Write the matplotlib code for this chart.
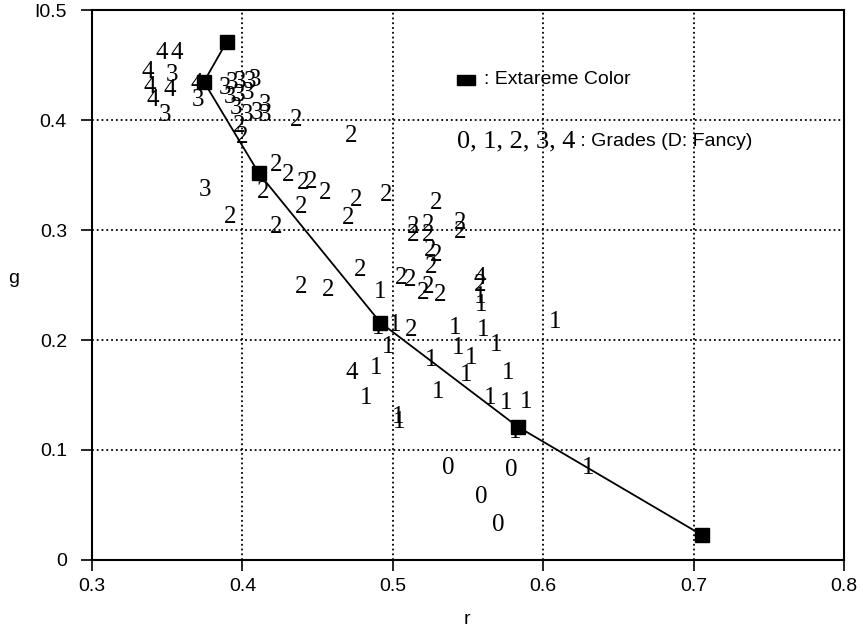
import matplotlib
matplotlib.use("Agg")
import matplotlib.pyplot as plt
from matplotlib.patches import Rectangle

# extreme colour points (joined by the line)
ext_r = [0.3895, 0.3744, 0.411, 0.4918, 0.583, 0.7055]
ext_g = [0.471, 0.4348, 0.3515, 0.2158, 0.1212, 0.0227]

# grade 0
r0 = [0.5368, 0.5789, 0.5589, 0.570]
g0 = [0.0833, 0.0818, 0.0576, 0.0318]

# grade 1
r1 = [0.4914, 0.4903, 0.5013, 0.5412, 0.560, 0.5689, 0.559, 0.6076, 0.4969,
      0.5434, 0.5523, 0.5257, 0.4892, 0.549, 0.5766, 0.4825, 0.5301, 0.5645,
      0.5755, 0.5888, 0.5035, 0.504, 0.581, 0.6298, 0.5578]
g1 = [0.244, 0.2106, 0.2136, 0.2106, 0.209, 0.1955, 0.2318, 0.2167, 0.194,
      0.1924, 0.1833, 0.1818, 0.1742, 0.1682, 0.1697, 0.147, 0.153, 0.147,
      0.1424, 0.1439, 0.130, 0.1258, 0.1167, 0.0833, 0.239]

# grade 2
r2 = [0.3995, 0.398, 0.436, 0.4726, 0.4227, 0.4305, 0.4404, 0.446, 0.4548,
      0.4393, 0.4138, 0.3917, 0.4227, 0.4759, 0.4703, 0.4958, 0.529, 0.5135,
      0.5135, 0.5235, 0.5235, 0.5445, 0.5445, 0.5246, 0.529, 0.5257, 0.5058,
      0.5113, 0.5235, 0.5312, 0.52, 0.5578, 0.478, 0.4393, 0.457, 0.5124]
g2 = [0.3848, 0.395, 0.40, 0.3855, 0.359, 0.35, 0.3424, 0.3439, 0.3333,
      0.3212, 0.3348, 0.312, 0.303, 0.327, 0.3106, 0.332, 0.3242, 0.303,
      0.2955, 0.3045, 0.2955, 0.306, 0.2985, 0.2818, 0.277, 0.2667, 0.256,
      0.2545, 0.2485, 0.241, 0.2424, 0.25, 0.2636, 0.2485, 0.2455, 0.209]

# grade 3
r3 = [0.3485, 0.353, 0.3706, 0.3884, 0.3928, 0.3983, 0.405, 0.4083, 0.3917,
      0.398, 0.4039, 0.396, 0.4028, 0.4094, 0.415, 0.415, 0.3751]
g3 = [0.4045, 0.441, 0.418, 0.4288, 0.4333, 0.4348, 0.4348, 0.436, 0.421,
      0.4227, 0.4242, 0.4106, 0.4045, 0.406, 0.4136, 0.4045, 0.3364]

# grade 4
r4 = [0.3463, 0.3562, 0.3374, 0.3385, 0.3407, 0.352, 0.3695, 0.4726, 0.5578]
g4 = [0.4606, 0.4606, 0.444, 0.430, 0.418, 0.427, 0.433, 0.1697, 0.256]

grades = [("0", r0, g0), ("1", r1, g1), ("2", r2, g2), ("3", r3, g3), ("4", r4, g4)]

xticks = [0.3, 0.4, 0.5, 0.6, 0.7, 0.8]
yticks = [0, 0.1, 0.2, 0.3, 0.4, 0.5]
ytick_labels = ["0", "0.1", "0.2", "0.3", "0.4", "I0.5"]

plt.rcParams['font.family'] = ['Liberation Sans', 'DejaVu Sans']
serif = ['Liberation Serif', 'DejaVu Serif']

fig = plt.figure(figsize=(8.63, 6.32), dpi=100)
ax = fig.add_axes([0.1066, 0.114, 0.8714, 0.87])

ax.plot(ext_r, ext_g, color='black', lw=1.3, marker='s', ms=10, mfc='black', mec='black', zorder=3)

for lab, rr, gg in grades:
    for x, y in zip(rr, gg):
        ax.text(x, y, lab, ha='center', va='center', fontsize=18,
                family=serif, color='black', zorder=4)

ax.set_xlim(0.3, 0.8)
ax.set_ylim(0, 0.5)
ax.set_xticks(xticks)
ax.set_xticklabels([str(t) for t in xticks])
ax.set_yticks(yticks)
ax.set_yticklabels(ytick_labels)
ax.tick_params(direction='out', length=8, width=1.2, labelsize=14, colors='black')
ax.tick_params(axis='y', pad=10)
ax.tick_params(axis='x', pad=5)
ax.grid(True, linestyle=':', color='black', lw=1.3)
ax.set_axisbelow(True)
for s in ax.spines.values():
    s.set_linewidth(1.5)

ax.set_xlabel('r', fontsize=14)
ax.set_ylabel('g', fontsize=14, rotation=0)
ax.xaxis.set_label_coords(0.499, -0.092)
ax.yaxis.set_label_coords(-0.104, 0.496)

# legend notes
ax.add_patch(Rectangle((0.486, 0.864), 0.023, 0.018, transform=ax.transAxes,
                       facecolor='black', edgecolor='black', clip_on=False))
ax.text(0.521, 0.873, ': Extareme Color', transform=ax.transAxes, ha='left', va='center', fontsize=14)
t = ax.text(0.485, 0.7605, '0, 1, 2, 3, 4', transform=ax.transAxes, ha='left', va='center',
            fontsize=19, family=serif)
ax.annotate(' : Grades (D: Fancy)', xy=(1, 0.5), xycoords=t, ha='left', va='center', fontsize=14)

fig.savefig('out.png', dpi=100)
